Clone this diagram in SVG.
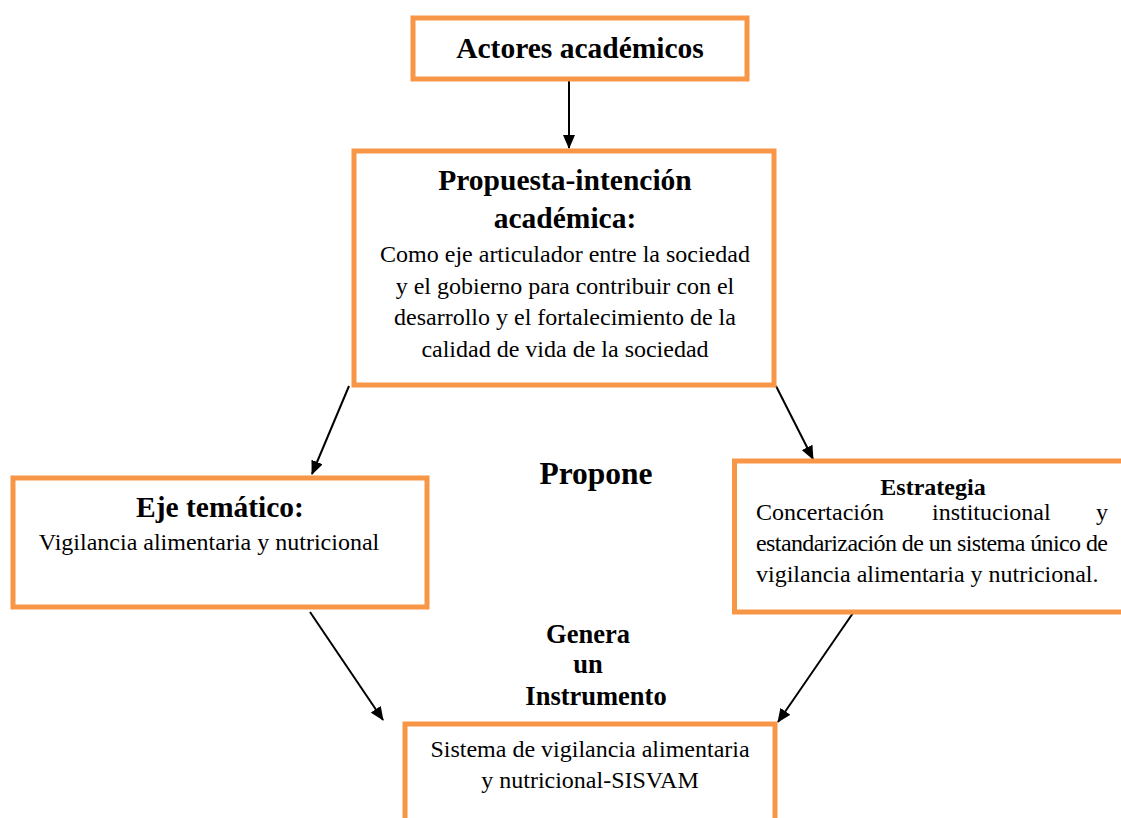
<svg xmlns="http://www.w3.org/2000/svg" width="1121" height="818" viewBox="0 0 1121 818">
<style>
.box{fill:#fff;stroke:#F79646;stroke-width:5}
text{font-family:"Liberation Serif","Times New Roman",serif;fill:#000}
.t{font-weight:bold;font-size:29.5px;text-anchor:middle}
.b{font-size:24px;text-anchor:middle}
.s{font-size:24px}
.lbl{font-weight:bold;text-anchor:middle}
.con{stroke:#000;stroke-width:2;fill:none;marker-end:url(#ah)}
</style>
<defs>
<marker id="ah" markerWidth="14" markerHeight="12" refX="13" refY="6" orient="auto" markerUnits="userSpaceOnUse">
<path d="M0,0 L14,6 L0,12 z" fill="#000"/>
</marker>
</defs>
<rect width="1121" height="818" fill="#fff"/>
<g id="connectors">
<line class="con" x1="569" y1="81" x2="569" y2="148"/>
<line class="con" x1="349" y1="386" x2="312" y2="474"/>
<line class="con" x1="776" y1="386" x2="813" y2="459"/>
<line class="con" x1="310" y1="612" x2="383" y2="720"/>
<line class="con" x1="853" y1="613" x2="778" y2="722"/>
</g>
<g id="actores">
<rect class="box" x="413" y="18" width="334" height="61"/>
<text class="t" x="580" y="58">Actores académicos</text>
</g>
<g id="propuesta">
<rect class="box" x="354" y="151" width="420" height="234"/>
<text class="t" x="565" y="190">Propuesta-intención</text>
<text class="t" x="565" y="228">académica:</text>
<text class="b" x="565" y="262">Como eje articulador entre la sociedad</text>
<text class="b" x="565" y="294">y el gobierno para contribuir con el</text>
<text class="b" x="565" y="325">desarrollo y el fortalecimiento de la</text>
<text class="b" x="565" y="357">calidad de vida de la sociedad</text>
</g>
<g id="eje">
<rect class="box" x="13" y="478" width="414" height="129"/>
<text class="t" x="220" y="517">Eje temático:</text>
<text class="b" x="209" y="550">Vigilancia alimentaria y nutricional</text>
</g>
<g id="estrategia">
<rect class="box" x="734.5" y="461" width="400" height="151"/>
<text class="lbl" x="933" y="495" font-size="24">Estrategia</text>
<text class="s" x="756" y="520">Concertación</text>
<text class="s" x="932" y="520">institucional</text>
<text class="s" x="1108" y="520" text-anchor="end">y</text>
<text class="s" x="756" y="551" textLength="352" lengthAdjust="spacing">estandarización de un sistema único de</text>
<text class="s" x="756" y="582">vigilancia alimentaria y nutricional.</text>
</g>
<g id="sisvam">
<rect class="box" x="405" y="724" width="370" height="110"/>
<text class="b" x="590" y="757">Sistema de vigilancia alimentaria</text>
<text class="b" x="590" y="788">y nutricional-SISVAM</text>
</g>
<g id="labels">
<text class="lbl" x="596" y="484" font-size="31.5">Propone</text>
<text class="lbl" x="588" y="643" font-size="26.5">Genera</text>
<text class="lbl" x="588" y="673" font-size="26.5">un</text>
<text class="lbl" x="596" y="705" font-size="26.5">Instrumento</text>
</g>
</svg>
